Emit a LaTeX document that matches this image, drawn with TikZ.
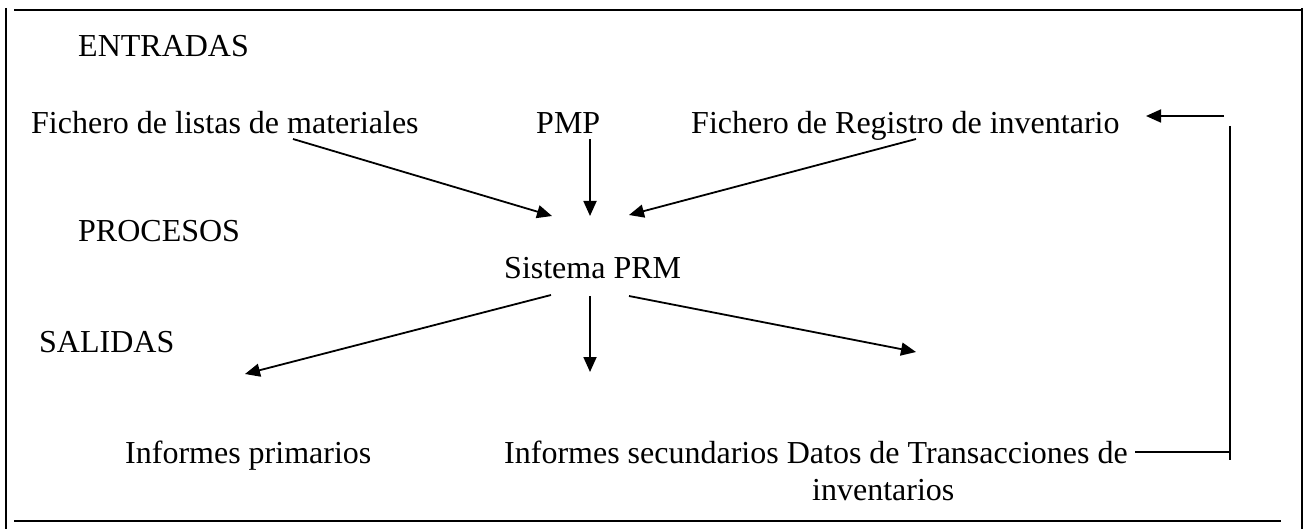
\documentclass[tikz,border=0pt]{standalone}
\usepackage{fontspec}
\setmainfont{Liberation Serif}
\usetikzlibrary{arrows.meta}
\begin{document}
\begin{tikzpicture}[x=1pt,y=-1pt,
  lbl/.style={inner sep=0pt,anchor=base west,font=\fontsize{32}{38}\selectfont},
  conn/.style={line width=1.8pt},
  arr/.style={conn,-{Triangle[length=15pt,width=13pt]}},
  frame/.style={line width=2pt}]
\useasboundingbox (0,0) rectangle (1308,529);
% frame
\coordinate (fl1) at (5.5,8);   \coordinate (fl2) at (5.5,529);
\coordinate (ft1) at (14,10);   \coordinate (ft2) at (1302,10);
\coordinate (fr1) at (1302,8);  \coordinate (fr2) at (1302,529);
\coordinate (fb1) at (14,521);  \coordinate (fb2) at (1281,521);
\draw[frame] (fl1) -- (fl2);
\draw[frame] (ft1) -- (ft2);
\draw[frame] (fr1) -- (fr2);
\draw[frame] (fb1) -- (fb2);
% texts
\node[lbl] (entradas) at (78,57) {ENTRADAS};
\node[lbl] (listas) at (31,134) {Fichero de listas de materiales};
\node[lbl] (pmp) at (536,134) {PMP};
\node[lbl] (registro) at (691,134) {Fichero de Registro de inventario};
\node[lbl] (procesos) at (78,242) {PROCESOS};
\node[lbl] (sistema) at (504,278) {Sistema PRM};
\node[lbl] (salidas) at (39,352) {SALIDAS};
\node[lbl] (primarios) at (125,463) {Informes primarios};
\node[lbl] (secundarios) at (504,463) {Informes secundarios Datos de Transacciones de};
\node[lbl] (inventarios) at (812,500) {inventarios};
% arrow end points
\coordinate (a1s) at (293,139);  \coordinate (a1e) at (552,216);
\coordinate (a2s) at (590,139);  \coordinate (a2e) at (590,216);
\coordinate (a3s) at (916,139);  \coordinate (a3e) at (629,215);
\coordinate (b1s) at (551,295);  \coordinate (b1e) at (245,374);
\coordinate (b2s) at (590,296);  \coordinate (b2e) at (590,372);
\coordinate (b3s) at (629,296);  \coordinate (b3e) at (916,352);
\draw[arr] (a1s) -- (a1e);
\draw[arr] (a2s) -- (a2e);
\draw[arr] (a3s) -- (a3e);
\draw[arr] (b1s) -- (b1e);
\draw[arr] (b2s) -- (b2e);
\draw[arr] (b3s) -- (b3e);
% feedback
\coordinate (f1) at (1135,452); \coordinate (f2) at (1230,452);
\coordinate (f3) at (1230,126); \coordinate (f4) at (1230,460);
\coordinate (f5) at (1224,116); \coordinate (f6) at (1146,116);
\draw[conn] (f1) -- (f2);
\draw[conn] (f3) -- (f4);
\draw[arr] (f5) -- (f6);
\end{tikzpicture}
\end{document}
